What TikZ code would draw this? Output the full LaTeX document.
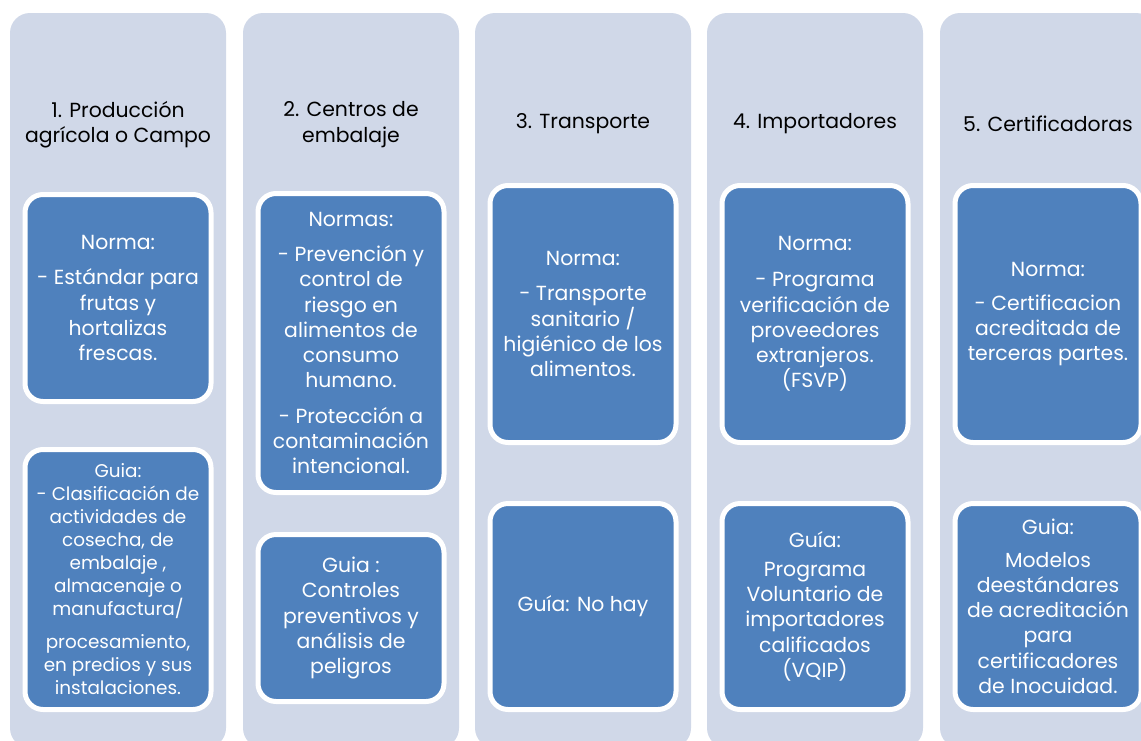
\documentclass[tikz,border=0pt]{standalone}
\usepackage{fontspec}
\setmainfont{Poppins}
\definecolor{colbg}{HTML}{D0D8E8}
\definecolor{boxblue}{HTML}{4F81BD}
\newcommand\bodyfont{\fontsize{20.4}{25.3}\selectfont}
\newcommand\smallbodyfont{\fontsize{18.4}{23}\selectfont}
\begin{document}
\begin{tikzpicture}[x=1pt,y=-1pt,
  colbox/.style={fill=colbg, rounded corners=20pt, minimum width=216pt, minimum height=735pt, inner sep=0pt},
  stdbox/.style={fill=boxblue, draw=white, line width=5pt, rounded corners=18pt, minimum width=186pt, inner sep=0pt, align=center, text=white, font=\bodyfont},
  hdr/.style={align=center, font=\bodyfont, text=black, inner sep=0pt}
]
\useasboundingbox (0,0) rectangle (1141,740);
\clip (0,0) rectangle (1141,740);
\fill[white] (0,0) rectangle (1141,740);
% columns
\node[colbox] (c1) at (118,380.5) {};
\node[colbox] (c2) at (351,380.5) {};
\node[colbox] (c3) at (583,380.5) {};
\node[colbox] (c4) at (815,380.5) {};
\node[colbox] (c5) at (1048,380.5) {};
% headers
\node[hdr] (h1) at (118,124.5) {1. Producción\\agrícola o Campo};
\node[hdr] (h2) at (351,124.5) {2. Centros de\\embalaje};
\node[hdr] (h3) at (583,124) {3. Transporte};
\node[hdr] (h4) at (815,124) {4. Importadores};
\node[hdr] (h5) at (1048,124) {5. Certificadoras};
% column 1
\node[stdbox, minimum height=207pt] (n1) at (118,298) {Norma:\\[10pt]- Estándar para\\frutas y\\hortalizas\\frescas.};
\node[stdbox, minimum height=260pt, font=\smallbodyfont] (g1) at (118,579.5) {Guia:\\- Clasificación de\\actividades de\\cosecha, de\\embalaje ,\\almacenaje o\\manufactura/\\[10pt]procesamiento,\\en predios y sus\\instalaciones.};
% column 2
\node[stdbox, minimum height=299pt] (n2) at (351,343) {Normas:\\[10pt]- Prevención y\\control de\\riesgo en\\alimentos de\\consumo\\humano.\\[10pt]- Protección a\\contaminación\\intencional.};
\node[stdbox, minimum height=167pt] (g2) at (351,618) {Guia :\\Controles\\preventivos y\\análisis de\\peligros};
% column 3
\node[stdbox, minimum height=257pt] (n3) at (583,314) {Norma:\\[10pt]- Transporte\\sanitario /\\higiénico de los\\alimentos.};
\node[stdbox, minimum height=206pt] (g3) at (583,606.5) {Guía: No hay};
% column 4
\node[stdbox, minimum height=257pt] (n4) at (815,314) {Norma:\\[11pt]- Programa\\verificación de\\proveedores\\extranjeros.\\(FSVP)};
\node[stdbox, minimum height=206pt] (g4) at (815,606.5) {Guía:\\[3pt]Programa\\Voluntario de\\importadores\\calificados\\(VQIP)};
% column 5
\node[stdbox, minimum height=257pt] (n5) at (1048,314) {Norma:\\[9pt]- Certificacion\\acreditada de\\terceras partes.};
\node[stdbox, minimum height=206pt] (g5) at (1048,606.5) {Guia:\\[7pt]Modelos\\deestándares\\de acreditación\\para\\certificadores\\de Inocuidad.};
\end{tikzpicture}
\end{document}
